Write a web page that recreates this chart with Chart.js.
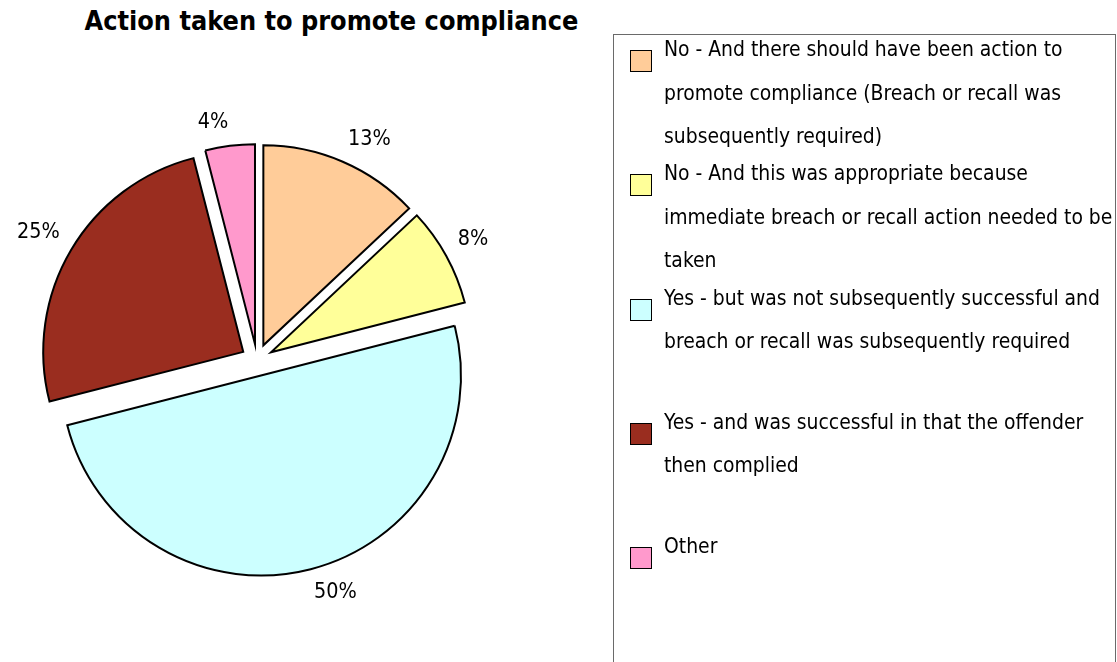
<!DOCTYPE html>
<html>
<head>
<meta charset="utf-8">
<title>Action taken to promote compliance</title>
<script src="https://cdn.jsdelivr.net/npm/chart.js@4.4.1/dist/chart.umd.min.js"></script>
<style>
  html, body { margin: 0; padding: 0; background: #fff; }
  body {
    width: 1117px; height: 662px; position: relative; overflow: hidden;
    font-family: 'DejaVu Sans Condensed', 'DejaVu Sans', sans-serif; color: #000;
  }
  #title {
    position: absolute; left: 0; top: 5px; width: 663px;
    text-align: center; font-weight: bold; font-size: 26.8px; line-height: 32px;
  }
  #pie-wrap { position: absolute; left: 0; top: 0; width: 662px; height: 662px; }
  #legend-box {
    position: absolute; left: 613px; top: 34px; width: 501px; height: 700px;
    border: 1.5px solid #6a6a6a;
  }
  #legend { position: absolute; left: 613px; top: 28px; width: 504px; margin: 0; padding: 0; list-style: none; }
  #legend li { position: relative; height: 124.25px; }
  #legend .sw {
    position: absolute; left: 17px; top: 22px; width: 20px; height: 20px;
    border: 1.6px solid #000;
  }
  #legend .txt {
    position: absolute; left: 51px; top: 0; font-size: 20.9px; line-height: 43.5px; white-space: nowrap;
  }
</style>
</head>
<body>
<div id="title">Action taken to promote compliance</div>
<div id="pie-wrap"><canvas id="pie" width="662" height="662"></canvas></div>
<div id="legend-box"></div>
<ul id="legend"></ul>

<script>
// categorías (una línea por fila de la leyenda)
const categories = [
  ['No - And there should have been action to', 'promote compliance (Breach or recall was', 'subsequently required)'],
  ['No - And this was appropriate because', 'immediate breach or recall action needed to be', 'taken'],
  ['Yes - but was not subsequently successful and', 'breach or recall was subsequently required'],
  ['Yes - and was successful in that the offender', 'then complied'],
  ['Other']
]
const shares = [13, 8, 50, 25, 4]
const sliceColors = ['#FFCC99', '#FFFF99', '#CCFFFF', '#9A2D1F', '#FF99CC']

const EXPLODE = 16

// separa cada porción desde el centro, usando el draw propio del arco
const explodePlugin = {
  id: 'explode',
  beforeDatasetDraw(chart, args, opts) {
    const ctx = chart.ctx
    args.meta.data.forEach(arc => {
      const mid = (arc.startAngle + arc.endAngle) / 2
      ctx.save()
      ctx.translate(Math.cos(mid) * opts.distance, Math.sin(mid) * opts.distance)
      arc.draw(ctx)
      ctx.restore()
    })
    return false
  }
}

// porcentajes fuera de cada porción
const pctLabels = {
  id: 'pctLabels',
  afterDatasetsDraw(chart, args, opts) {
    const ctx = chart.ctx
    const meta = chart.getDatasetMeta(0)
    const vals = chart.data.datasets[0].data
    const total = vals.reduce((a, b) => a + b, 0)
    ctx.save()
    ctx.font = opts.font
    ctx.fillStyle = '#000'
    meta.data.forEach((arc, i) => {
      const mid = (arc.startAngle + arc.endAngle) / 2
      const ux = Math.cos(mid), uy = Math.sin(mid)
      const d = arc.outerRadius + opts.explode + opts.gap
      const x = arc.x + ux * d, y = arc.y + uy * d
      ctx.textAlign = ux >= 0 ? 'left' : 'right'
      ctx.textBaseline = uy >= 0 ? 'top' : 'bottom'
      ctx.fillText(Math.round(vals[i] / total * 100) + '%', x, y)
    })
    ctx.restore()
  }
}

const chart = new Chart(document.getElementById('pie').getContext('2d'), {
  type: 'pie',
  data: {
    labels: categories,
    datasets: [{
      data: shares,
      backgroundColor: sliceColors,
      borderColor: '#000',
      borderWidth: 2,
      borderJoinStyle: 'miter'
    }]
  },
  options: {
    responsive: false,
    animation: false,
    radius: 200,
    layout: { padding: { left: 0, right: 148, top: 58, bottom: 0 } },
    events: [],
    plugins: {
      legend: { display: false },
      tooltip: { enabled: false },
      explode: { distance: EXPLODE },
      pctLabels: { font: '21.4px "DejaVu Sans Condensed", "DejaVu Sans", sans-serif', explode: EXPLODE, gap: 13 }
    }
  },
  plugins: [explodePlugin, pctLabels]
})

// leyenda en HTML a partir de los datos del gráfico
const ul = document.getElementById('legend')
chart.data.labels.forEach((lines, i) => {
  const li = document.createElement('li')
  const sw = document.createElement('span')
  sw.className = 'sw'
  sw.style.background = chart.data.datasets[0].backgroundColor[i]
  const txt = document.createElement('div')
  txt.className = 'txt'
  txt.innerHTML = lines.map(l => l.replace(/</g, '&lt;')).join('<br>')
  li.appendChild(sw)
  li.appendChild(txt)
  ul.appendChild(li)
})
</script>
</body>
</html>
